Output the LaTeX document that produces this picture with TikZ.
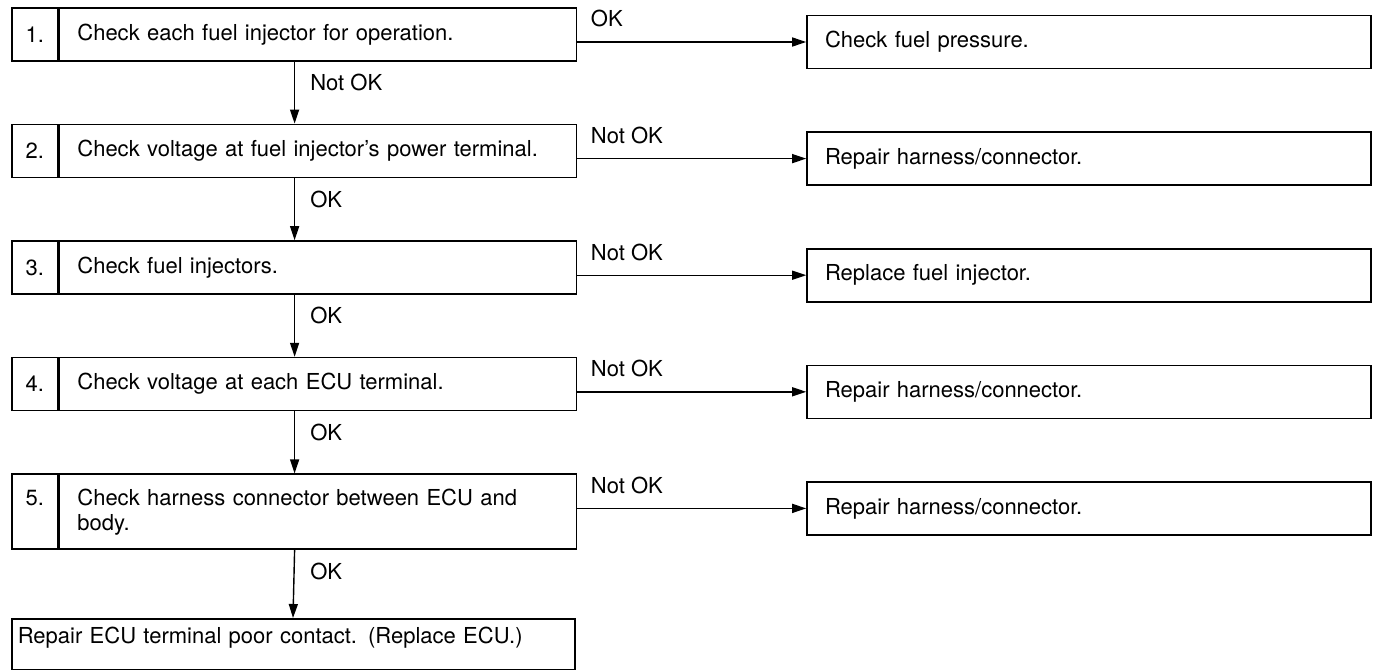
\documentclass[tikz,border=0pt]{standalone}
\usepackage{fontspec}
\setmainfont{TeX Gyre Heros}
\usepackage{tikz}
\usetikzlibrary{arrows.meta,positioning}

\begin{document}
\begin{tikzpicture}[
    font=\fontsize{11}{12.5}\selectfont,
    node distance=31pt and 0pt,
    numbox/.style={
        rectangle, draw, line width=0.8pt,
        minimum width=23pt, minimum height=26.5pt, inner sep=0pt
    },
    stepbox/.style={
        rectangle, draw, line width=0.8pt,
        text width=240.5pt, inner xsep=9pt, align=left,
        minimum height=26.5pt
    },
    resbox/.style={
        rectangle, draw, line width=0.8pt,
        text width=264pt, inner xsep=9pt, align=left,
        minimum height=26.5pt
    },
    endbox/.style={
        rectangle, draw, line width=0.8pt,
        text width=275.5pt, inner xsep=3pt, align=left,
        minimum height=25.5pt, text depth=9pt
    },
    arr/.style={-{Triangle[length=7pt,width=4.5pt]}, line width=0.7pt},
    hlbl/.style={anchor=south west, inner sep=2pt, xshift=4.5pt, yshift=5pt},
    vlbl/.style={anchor=north west, inner sep=2pt, xshift=5.5pt, yshift=-4pt}
]
    \useasboundingbox (0,0) rectangle (687.5pt,-334.5pt);

    % Check steps
    \node[numbox, anchor=north west] (n1) at (5.5pt,-3.5pt) {1.};
    \node[stepbox, right=0pt of n1] (s1) {Check each fuel injector for operation.};
    \node[numbox, below=of n1] (n2) {2.};
    \node[stepbox, right=0pt of n2] (s2) {Check voltage at fuel injector's power terminal.};
    \node[numbox, below=of n2] (n3) {3.};
    \node[stepbox, right=0pt of n3] (s3) {Check fuel injectors.};
    \node[numbox, below=of n3] (n4) {4.};
    \node[stepbox, right=0pt of n4] (s4) {Check voltage at each ECU terminal.};
    \node[numbox, below=of n4, minimum height=37.5pt] (n5) {\raisebox{3pt}[0pt][0pt]{5.}};
    \node[stepbox, right=0pt of n5, minimum height=37.5pt] (s5) {Check harness connector between ECU and\\body.};
    \node[endbox, below=34pt of n5.south west, anchor=north west] (e1) {Repair ECU terminal poor contact. (Replace ECU.)};

    % Results
    \node[resbox, anchor=west] (r1) at ([xshift=114.5pt, yshift=-17.5pt]s1.north east) {Check fuel pressure.};
    \node[resbox, anchor=west] (r2) at ([xshift=114.5pt, yshift=-17.5pt]s2.north east) {Repair harness/connector.};
    \node[resbox, anchor=west] (r3) at ([xshift=114.5pt, yshift=-17.5pt]s3.north east) {Replace fuel injector.};
    \node[resbox, anchor=west] (r4) at ([xshift=114.5pt, yshift=-17.5pt]s4.north east) {Repair harness/connector.};
    \node[resbox, anchor=west] (r5) at ([xshift=114.5pt, yshift=-17.5pt]s5.north east) {Repair harness/connector.};

    % Down arrows
    \draw[arr] ([xshift=118pt]s1.south west) node[vlbl] {Not OK} -- ([xshift=118pt]s2.north west);
    \draw[arr] ([xshift=118pt]s2.south west) node[vlbl] {OK} -- ([xshift=118pt]s3.north west);
    \draw[arr] ([xshift=118pt]s3.south west) node[vlbl] {OK} -- ([xshift=118pt]s4.north west);
    \draw[arr] ([xshift=118pt]s4.south west) node[vlbl] {OK} -- ([xshift=118pt]s5.north west);
    \draw[arr] ([xshift=118pt]s5.south west) node[vlbl] {OK} -- ([xshift=141pt]e1.north west);

    % Side arrows
    \draw[arr] (s1.east |- r1.west) node[hlbl] {OK} -- (r1.west);
    \draw[arr] (s2.east |- r2.west) node[hlbl] {Not OK} -- (r2.west);
    \draw[arr] (s3.east |- r3.west) node[hlbl] {Not OK} -- (r3.west);
    \draw[arr] (s4.east |- r4.west) node[hlbl] {Not OK} -- (r4.west);
    \draw[arr] (s5.east |- r5.west) node[hlbl] {Not OK} -- (r5.west);

\end{tikzpicture}
\end{document}
